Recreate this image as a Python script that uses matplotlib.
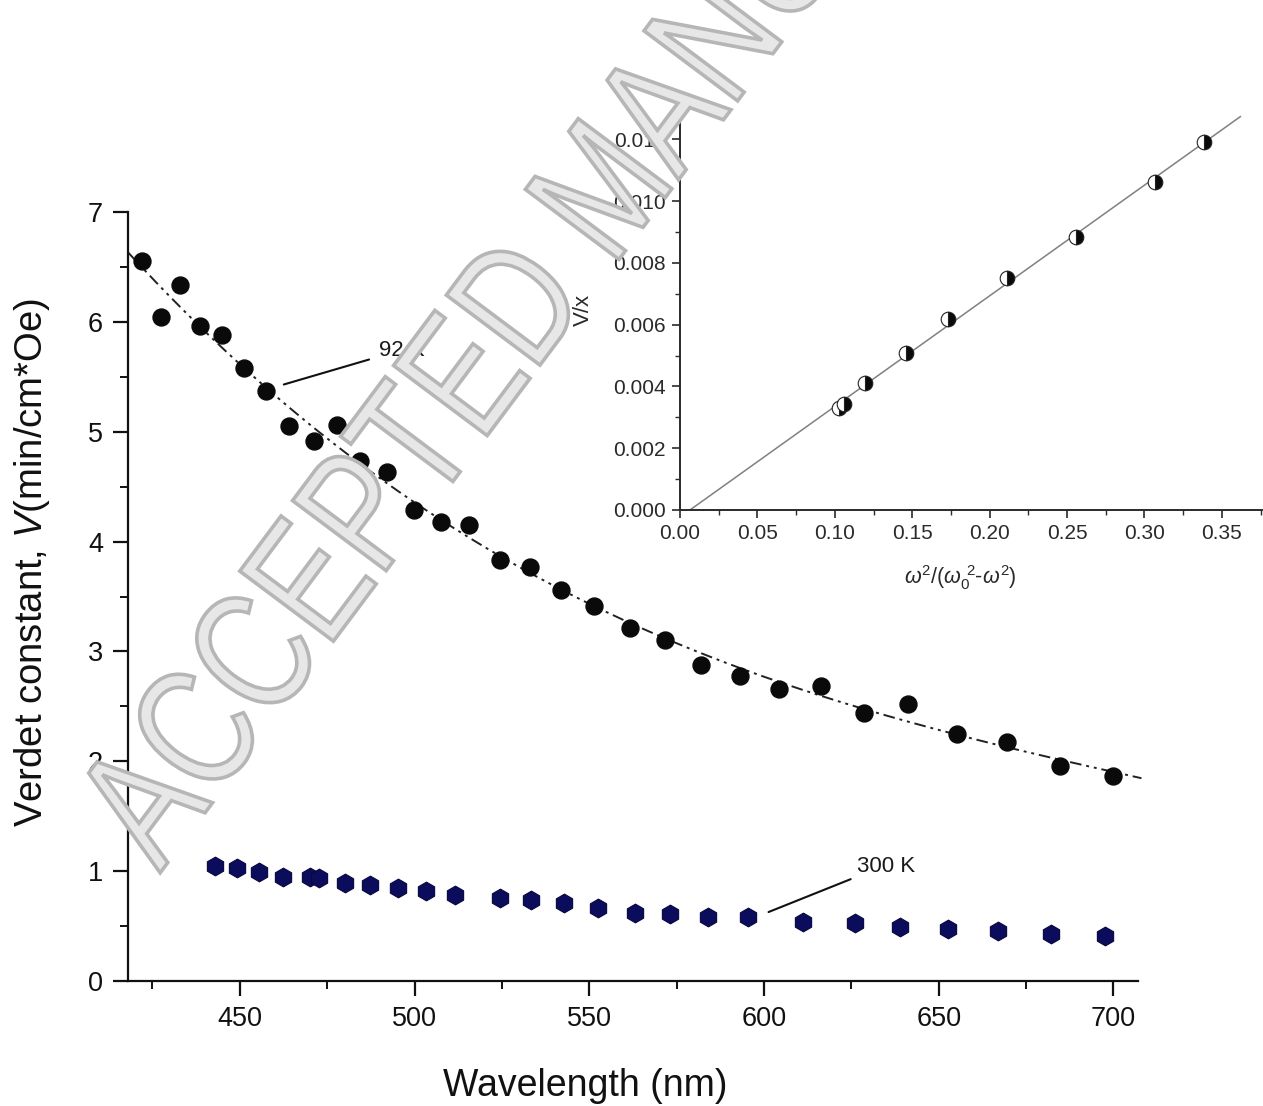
import numpy as np
import matplotlib
matplotlib.use("Agg")
import matplotlib.pyplot as plt
from matplotlib.ticker import MultipleLocator, FormatStrFormatter
from matplotlib.textpath import TextPath
from matplotlib.patches import PathPatch
from matplotlib.font_manager import FontProperties
from matplotlib.transforms import Affine2D, IdentityTransform

plt.rcParams['font.family'] = ['Liberation Sans', 'DejaVu Sans']
plt.rcParams['mathtext.fontset'] = 'custom'
plt.rcParams['mathtext.rm'] = 'Liberation Sans'
plt.rcParams['mathtext.it'] = 'Liberation Sans:italic'

# ---- data: 92 K ----
wl_92 = [422.0, 427.5, 432.9, 438.6, 444.9, 451.1, 457.4, 464.0, 471.1, 477.7,
         484.5, 492.0, 499.9, 507.6, 515.6, 524.5, 533.0, 541.9, 551.3, 561.6,
         571.6, 582.1, 593.0, 604.4, 616.4, 628.7, 641.2, 655.2, 669.5, 684.6, 700.0]
v_92 = [6.55, 6.04, 6.34, 5.96, 5.88, 5.58, 5.37, 5.05, 4.92, 5.06,
        4.73, 4.63, 4.29, 4.18, 4.15, 3.83, 3.77, 3.56, 3.41, 3.21,
        3.10, 2.88, 2.78, 2.66, 2.69, 2.44, 2.52, 2.25, 2.18, 1.96, 1.87]

# ---- data: 300 K ----
wl_300 = [443.0, 449.2, 455.6, 462.4, 470.0, 472.6, 480.1, 487.3, 495.4, 503.3,
          511.7, 524.4, 533.4, 542.8, 552.6, 563.0, 573.1, 584.0, 595.5, 611.1,
          626.0, 638.8, 652.6, 667.0, 682.1, 697.5]
v_300 = [1.047, 1.026, 0.995, 0.949, 0.949, 0.935, 0.895, 0.874, 0.844, 0.819,
         0.783, 0.758, 0.737, 0.707, 0.662, 0.622, 0.610, 0.585, 0.580, 0.540,
         0.525, 0.494, 0.471, 0.455, 0.428, 0.410]

# ---- inset data ----
ins_x = [0.1027, 0.1061, 0.1194, 0.1461, 0.1733, 0.2115, 0.2556, 0.3071, 0.3386]
ins_y = [0.00329, 0.00342, 0.00410, 0.00507, 0.00619, 0.00752, 0.00885, 0.01061, 0.01192]

x_ticks = [450, 500, 550, 600, 650, 700]
y_ticks = [0, 1, 2, 3, 4, 5, 6, 7]
ins_xticks = [0.00, 0.05, 0.10, 0.15, 0.20, 0.25, 0.30, 0.35]
ins_yticks = [0.000, 0.002, 0.004, 0.006, 0.008, 0.010, 0.012]

fig = plt.figure(figsize=(12.63, 11.06), dpi=100)

# ---------------- main axes ----------------
ax = fig.add_axes([0.1013, 0.1130, 0.7997, 0.6953])
ax.set_xlim(418, 707)
ax.set_ylim(0, 7)
for s in ['top', 'right']:
    ax.spines[s].set_visible(False)
for s in ['left', 'bottom']:
    ax.spines[s].set_linewidth(1.6)
    ax.spines[s].set_color('#111111')

# smooth least-squares fit through the 92 K data
wl_arr = np.asarray(wl_92)
coef = np.polyfit(wl_arr - 560.0, np.asarray(v_92), 3)
xf = np.linspace(418, 708, 300)
ax.plot(xf, np.polyval(coef, xf - 560.0), color='#222222', lw=1.4,
        dashes=(6, 2.5, 1.5, 2.5, 1.5, 2.5), zorder=2, clip_on=False)

ax.plot(wl_92, v_92, 'o', ms=12.2, color='#0a0a0a', mec='#0a0a0a', zorder=3)
ax.plot(wl_300, v_300, 'h', ms=13.5, color='#0c0c5c', mec='#08083f', mew=0.8, zorder=3)

ax.set_xticks(x_ticks)
ax.set_yticks(y_ticks)
ax.xaxis.set_minor_locator(MultipleLocator(25))
ax.yaxis.set_minor_locator(MultipleLocator(0.5))
ax.tick_params(which='major', direction='out', length=11, width=1.6,
               labelsize=19.5, pad=7, colors='#111111')
ax.tick_params(which='minor', direction='out', length=6, width=1.4, colors='#111111')

ax.set_xlabel('Wavelength (nm)', fontsize=27, color='#111111')
ax.xaxis.set_label_coords(0.4525, -0.113)
ax.set_ylabel(r'Verdet constant, $\mathit{V}$(min/cm*Oe)', fontsize=27.5,
              color='#111111')
ax.yaxis.set_label_coords(-0.075, 0.5436)

ax.annotate('92 K', xy=(462.6, 5.43), xytext=(489.7, 5.74),
            fontsize=16, va='center', ha='left', color='#1a1a1a',
            arrowprops=dict(arrowstyle='-', color='#111111', lw=1.5,
                            shrinkA=5, shrinkB=0, relpos=(0, 0.2)))
ax.annotate('300 K', xy=(601.3, 0.628), xytext=(626.7, 1.047),
            fontsize=16, va='center', ha='left', color='#1a1a1a',
            arrowprops=dict(arrowstyle='-', color='#111111', lw=1.5,
                            shrinkA=3, shrinkB=0, relpos=(0, 0.0)))

# ---------------- inset ----------------
ins = fig.add_axes([0.5384, 0.5389, 0.4616, 0.3662])
ins.patch.set_alpha(0)
ins.set_xlim(0, 0.3766)
ins.set_ylim(0, 0.01311)
for s in ['top', 'right']:
    ins.spines[s].set_visible(False)
for s in ['left', 'bottom']:
    ins.spines[s].set_linewidth(1.4)
    ins.spines[s].set_color('#2a2a2a')

lc = np.polyfit(ins_x, ins_y, 1)
x0 = -lc[1] / lc[0]
xl = np.linspace(x0, 0.362, 50)
ins.plot(xl, np.polyval(lc, xl), color='#808080', lw=1.1, zorder=2)
ins.plot(ins_x, ins_y, 'o', ms=10.5, fillstyle='right', color='#0a0a0a',
         markerfacecoloralt='white', mec='#222222', mew=0.8, zorder=3)

ins.set_xticks(ins_xticks)
ins.set_yticks(ins_yticks)
ins.xaxis.set_major_formatter(FormatStrFormatter('%.2f'))
ins.yaxis.set_major_formatter(FormatStrFormatter('%.3f'))
ins.xaxis.set_minor_locator(MultipleLocator(0.025))
ins.yaxis.set_minor_locator(MultipleLocator(0.001))
ins.tick_params(which='major', direction='out', length=6, width=1.2,
                labelsize=15, pad=4, colors='#2a2a2a')
ins.tick_params(which='minor', direction='out', length=3.5, width=1.0, colors='#2a2a2a')
ins.set_xlabel(r'$\omega^2$/($\omega_0^{\ 2}$-$\omega^2$)', fontsize=15.5,
               color='#2a2a2a')
ins.xaxis.set_label_coords((960 - 680) / 583, (510 - 563) / 405)
ins.set_ylabel('V/x', fontsize=16, color='#2a2a2a')
ins.yaxis.set_label_coords((594 - 680) / 583, (510 - 310) / 405)

# ---------------- watermark (tall lettering) ----------------
tp = TextPath((0, 0), 'ACCEPTED MANUSCRIPT', size=1,
              prop=FontProperties(family='Liberation Sans'))
wm_tr = Affine2D().scale(132, 170).rotate_deg(53.2).translate(160, 1106 - 873)
wm = PathPatch(tp, transform=wm_tr + IdentityTransform(),
               facecolor='#e7e7e7', edgecolor='#b6b6b6', lw=2.6, zorder=10)
fig.add_artist(wm)

fig.savefig('out.png', dpi=100, facecolor='white')
